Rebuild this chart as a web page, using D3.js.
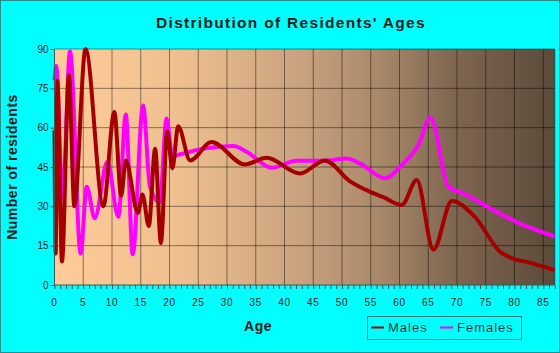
<!DOCTYPE html>
<html>
<head>
<meta charset="utf-8">
<script src="https://cdn.jsdelivr.net/npm/d3@7"></script>
<style>
    body { margin: 0; background: #00ffff; }
    text { font-family: "Liberation Sans", Arial, sans-serif; }
</style>
</head>
<body>
<div id="chart-area"></div>
<script>
// values (age, number of residents)
var maleAges   = [0, 0.2, 0.5, 1.3, 2.5, 3.45, 5.4, 8.5, 10.4, 11.6, 12.4, 14.5, 15.3, 16.4, 17.5, 18.5, 19.6, 20.5, 21.5, 23.6, 27.3, 33.1, 36.9, 42.7, 47, 51.4, 54.9, 57.2, 60.4, 63, 65.9, 69.1, 73.1, 77.5, 79.8, 82.1, 87];
var maleValues = [59, 12, 78, 9, 80, 30, 90, 30, 66, 34, 47.5, 27.5, 34.5, 22.5, 52, 16, 58.5, 44.5, 60.5, 47.5, 54.5, 46, 48.5, 42.5, 47.5, 39.5, 35.5, 33.5, 30.5, 40, 13.5, 32, 26, 12.7, 10, 8.8, 5.7];

var femaleAges   = [0, 0.3, 1.4, 2.7, 4.55, 5.6, 7, 9.2, 11.1, 12.4, 13.6, 15.4, 16.6, 18.3, 19.5, 20.5, 21.5, 25.9, 31.1, 33.4, 37.8, 42.1, 46.7, 50.8, 53.1, 57.5, 60.5, 63.3, 65.4, 68.5, 71.1, 76.3, 81.5, 87];
var femaleValues = [78, 83.5, 33.5, 89, 12, 37.5, 25.5, 47, 26, 65, 11.7, 68.5, 37.5, 31.5, 63.5, 49, 49.6, 52, 53, 50.8, 44.7, 47.4, 47.4, 48.2, 46.4, 40.7, 46, 53.4, 63.8, 37.5, 35, 28.6, 22.9, 18.5];

var xTicks = [0, 5, 10, 15, 20, 25, 30, 35, 40, 45, 50, 55, 60, 65, 70, 75, 80, 85];
var yTicks = [0, 15, 30, 45, 60, 75, 90];

var seriesNames  = ['Males', 'Females'];
var seriesColors = ['#a50000', '#ff00ff'];

var margins = {
    top: 49,
    bottom: 68,
    left: 54.5,
    right: 5.25,
}

var height = 353 - margins.top - margins.bottom;
var width = 560 - margins.right - margins.left;

var svg = d3.select("#chart-area")
        .append('svg')
        .attr('width', 560)
        .attr('height', 353)

svg.append('rect')
    .attr('x', 0.5).attr('y', 0.5)
    .attr('width', 559).attr('height', 352)
    .attr('fill', '#00ffff')
    .attr('stroke', '#2a8c8c');

var grad = svg.append('defs').append('linearGradient')
    .attr('id', 'bg')
    .attr('x1', '0%').attr('x2', '100%')
    .attr('y1', '0%').attr('y2', '0%');
[['0%', '#ffcc99'], ['25%', '#efbf8f'], ['50%', '#c8a17e'], ['65%', '#a88869'],
 ['80%', '#7f6650'], ['100%', '#5c4a3a']].forEach(s => {
    grad.append('stop').attr('offset', s[0]).attr('stop-color', s[1]);
});

svg.append('text')
    .attr('x', 291)
    .attr('y', 28)
    .attr('font-size', '15.5px')
    .attr('font-weight', 'bold')
    .attr('letter-spacing', '1.3px')
    .attr('text-anchor', 'middle')
    .attr('fill', '#1a1a1a')
    .text("Distribution of Residents' Ages");

var g = svg.append('g')
        .attr('transform', `translate(${margins.left}, ${margins.top})`);

var x = d3.scaleLinear()
        .domain([0, 87])
        .range([0, width]);

var y = d3.scaleLinear()
        .domain([0, 90])
        .range([height, 0]);

g.append('rect')
    .attr('width', width)
    .attr('height', height)
    .attr('fill', 'url(#bg)');

// grid
g.selectAll('.vgrid')
    .data(xTicks.filter(d => d > 0))
    .enter()
    .append('line')
    .attr('x1', d => x(d)).attr('x2', d => x(d))
    .attr('y1', 0).attr('y2', height)
    .attr('stroke', '#000')
    .attr('stroke-opacity', 0.45);

g.selectAll('.hgrid')
    .data(yTicks.filter(d => d > 0))
    .enter()
    .append('line')
    .attr('x1', 0).attr('x2', width)
    .attr('y1', d => y(d)).attr('y2', d => y(d))
    .attr('stroke', '#000')
    .attr('stroke-opacity', 0.45);

g.append('line')
    .attr('x1', width).attr('x2', width)
    .attr('y1', 0).attr('y2', height)
    .attr('stroke', '#000')
    .attr('stroke-opacity', 0.45);

// lines
var line = d3.line()
    .x(d => x(d[0]))
    .y(d => y(d[1]))
    .curve(d3.curveMonotoneX);

var plot = g.append('g');
plot.append('path')
    .datum(femaleAges.map((a, i) => [a, femaleValues[i]]))
    .attr('d', line)
    .attr('fill', 'none')
    .attr('stroke', seriesColors[1])
    .attr('stroke-width', 4)
    .attr('stroke-linejoin', 'round');
plot.append('path')
    .datum(maleAges.map((a, i) => [a, maleValues[i]]))
    .attr('d', line)
    .attr('fill', 'none')
    .attr('stroke', seriesColors[0])
    .attr('stroke-width', 4)
    .attr('stroke-linejoin', 'round');

// axes
var xAxisCall = d3.axisBottom(x)
    .tickValues(d3.range(0, 88))
    .tickSize(4)
    .tickFormat('');
var xAxis = g.append('g')
    .attr('class', 'x-axis')
    .attr('transform', `translate(0, ${height})`)
    .call(xAxisCall);
xAxis.select('.domain').remove();
xAxis.append('line').attr('x1', 0).attr('x2', width).attr('stroke', '#3a5a5a');
xAxis.selectAll('.tick line').attr('stroke', '#3a5a5a');

xAxis.selectAll('.lbl')
    .data(xTicks)
    .enter()
    .append('text')
    .attr('x', d => x(d))
    .attr('y', 21)
    .attr('font-size', '10px')
    .attr('letter-spacing', '0.8px')
    .attr('text-anchor', 'middle')
    .attr('fill', '#222')
    .text(d => d);

var yAxisCall = d3.axisLeft(y)
    .tickValues(yTicks)
    .tickSize(4)
    .tickPadding(2);
var yAxis = g.append('g')
    .attr('class', 'y-axis')
    .call(yAxisCall);
yAxis.select('.domain').attr('stroke', '#3a5a5a').attr('d', `M0,0V${height}`);
yAxis.selectAll('.tick line').attr('stroke', '#3a5a5a');
yAxis.selectAll('.tick text')
    .attr('font-size', '10px')
    .attr('font-family', '"Liberation Sans", Arial, sans-serif')
    .attr('fill', '#222');

svg.append('text')
    .attr('transform', 'rotate(-90)')
    .attr('x', -167)
    .attr('y', 17)
    .attr('font-size', '14px')
    .attr('font-weight', 'bold')
    .attr('letter-spacing', '0.5px')
    .attr('text-anchor', 'middle')
    .attr('fill', '#1a1a1a')
    .text('Number of residents');

svg.append('text')
    .attr('x', 258)
    .attr('y', 331)
    .attr('font-size', '14px')
    .attr('font-weight', 'bold')
    .attr('letter-spacing', '0.5px')
    .attr('text-anchor', 'middle')
    .attr('fill', '#1a1a1a')
    .text('Age');

// legend
var legend = svg.append('g');
legend.append('rect')
    .attr('x', 367.5).attr('y', 316.5)
    .attr('width', 154).attr('height', 23)
    .attr('fill', '#00ffff')
    .attr('stroke', '#2a7a7a');

var legendX = [371, 440];
seriesNames.forEach((name, i) => {
    legend.append('line')
        .attr('x1', legendX[i]).attr('x2', legendX[i] + 13)
        .attr('y1', 327.5).attr('y2', 327.5)
        .attr('stroke', seriesColors[i])
        .attr('stroke-width', 2);
    legend.append('text')
        .attr('x', legendX[i] + 17)
        .attr('y', 332)
        .attr('font-size', '13px')
        .attr('letter-spacing', '1px')
        .attr('fill', '#1f3a3a')
        .text(name);
});
</script>
</body>
</html>
